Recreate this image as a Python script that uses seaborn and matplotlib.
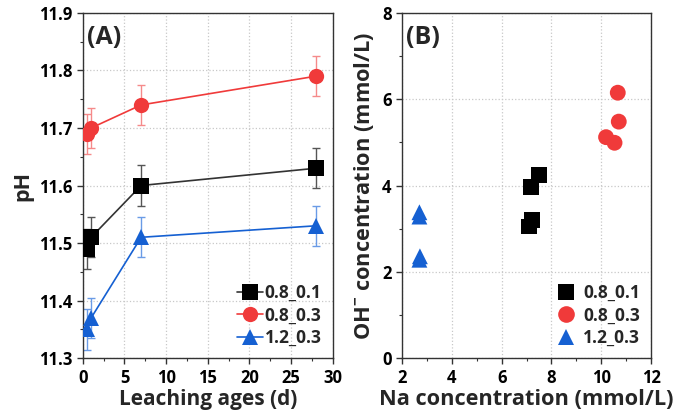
import numpy as np
import pandas as pd
import matplotlib
matplotlib.use("Agg")
import matplotlib.pyplot as plt
import seaborn as sns
from matplotlib.ticker import MultipleLocator
from matplotlib.lines import Line2D

# ---- data ----
series_names = ["0.8_0.1", "0.8_0.3", "1.2_0.3"]
ages = [0.5, 1, 7, 28]
ph_08_01 = [11.49, 11.51, 11.60, 11.63]
ph_08_03 = [11.69, 11.70, 11.74, 11.79]
ph_12_03 = [11.35, 11.37, 11.51, 11.53]
ph_err = [0.035, 0.035, 0.035, 0.035]

na_08_01 = [7.19, 7.50, 7.22, 7.11]
oh_08_01 = [3.97, 4.24, 3.20, 3.05]
na_08_03 = [10.66, 10.70, 10.19, 10.53]
oh_08_03 = [6.15, 5.48, 5.12, 4.99]
na_12_03 = [2.70, 2.70, 2.72, 2.70]
oh_12_03 = [3.38, 3.28, 2.36, 2.28]

colors = {"0.8_0.1": "#000000", "0.8_0.3": "#F03A3A", "1.2_0.3": "#1560D2"}
line_colors = {"0.8_0.1": "#333333", "0.8_0.3": "#F03A3A", "1.2_0.3": "#1560D2"}
err_colors = {"0.8_0.1": "#555555", "0.8_0.3": "#F58A8A", "1.2_0.3": "#6A9BE6"}
markers = {"0.8_0.1": "s", "0.8_0.3": "o", "1.2_0.3": "^"}

dfA = pd.DataFrame({
    "age": ages * 3,
    "pH": ph_08_01 + ph_08_03 + ph_12_03,
    "err": ph_err * 3,
    "series": [s for s in series_names for _ in ages],
})
dfB = pd.DataFrame({
    "Na": na_08_01 + na_08_03 + na_12_03,
    "OH": oh_08_01 + oh_08_03 + oh_12_03,
    "series": [s for s in series_names for _ in range(4)],
})

sns.set_theme(style="white")
plt.rcParams["font.family"] = ["Open Sans", "DejaVu Sans"]
plt.rcParams["font.weight"] = "bold"
plt.rcParams["axes.labelweight"] = "bold"
plt.rcParams["mathtext.fontset"] = "custom"
plt.rcParams["mathtext.bf"] = "Open Sans:bold"
plt.rcParams["mathtext.rm"] = "Open Sans:bold"

fig = plt.figure(figsize=(6.79, 4.15), dpi=100)
axA = fig.add_axes([0.122, 0.137, 0.368, 0.832])
axB = fig.add_axes([0.592, 0.137, 0.367, 0.832])

# ---- panel A ----
for s in series_names:
    d = dfA[dfA.series == s]
    axA.errorbar(d["age"], d["pH"], yerr=d["err"], fmt="none",
                 ecolor=err_colors[s], elinewidth=1.0, capsize=3, capthick=1.0, zorder=2)
sns.lineplot(data=dfA, x="age", y="pH", hue="series", style="series",
             palette=line_colors, markers=markers, dashes=False,
             markersize=11, linewidth=1.2, markeredgewidth=0, ax=axA, zorder=3,
             legend=False)
for line, s in zip(axA.lines[-3:], series_names):
    line.set_markerfacecolor(colors[s])
    line.set_markeredgecolor(colors[s])

axA.set_xlim(0, 30)
axA.set_ylim(11.3, 11.9)
axA.xaxis.set_major_locator(MultipleLocator(5))
axA.xaxis.set_minor_locator(MultipleLocator(2.5))
axA.yaxis.set_major_locator(MultipleLocator(0.1))
axA.yaxis.set_minor_locator(MultipleLocator(0.05))
axA.set_xlabel("Leaching ages (d)", fontsize=15, fontweight="bold", labelpad=2)
axA.set_ylabel("pH", fontsize=15.5, fontweight="bold", labelpad=4)
axA.text(0.018, 0.965, "(A)", transform=axA.transAxes, fontsize=18,
         fontweight="bold", va="top", ha="left")

handlesA = [Line2D([], [], color=line_colors[s], marker=markers[s], markersize=11,
                   markerfacecolor=colors[s], markeredgewidth=0, linewidth=1.2)
            for s in series_names]
axA.legend(handlesA, series_names, loc="lower right", frameon=False,
           handlelength=1.5, handletextpad=0.1, labelspacing=0.25,
           borderaxespad=0.25, prop={"weight": "bold", "size": 12.5})

# ---- panel B ----
sns.scatterplot(data=dfB, x="Na", y="OH", hue="series", style="series",
                palette=colors, markers=markers, s=130, linewidth=0,
                ax=axB, zorder=3, legend=False)
axB.set_xlim(2, 12)
axB.set_ylim(0, 8)
axB.xaxis.set_major_locator(MultipleLocator(2))
axB.xaxis.set_minor_locator(MultipleLocator(1))
axB.yaxis.set_major_locator(MultipleLocator(2))
axB.yaxis.set_minor_locator(MultipleLocator(1))
axB.set_xlabel("Na concentration (mmol/L)", fontsize=15.7, fontweight="bold", labelpad=2)
axB.set_ylabel(r"OH$^{\mathbf{-}}$ concentration (mmol/L)", fontsize=15.7,
               fontweight="bold", labelpad=4)
axB.text(0.018, 0.965, "(B)", transform=axB.transAxes, fontsize=18,
         fontweight="bold", va="top", ha="left")
handlesB = [Line2D([], [], color=colors[s], marker=markers[s], markersize=12,
                   markeredgewidth=0, linestyle="none") for s in series_names]
axB.legend(handlesB, series_names, loc="lower right", frameon=False,
           handlelength=1.2, handletextpad=0.4, labelspacing=0.25,
           borderaxespad=0.25, prop={"weight": "bold", "size": 12.5})

for ax in (axA, axB):
    ax.grid(True, which="major", color="#c8c8c8", linestyle=":", linewidth=0.9)
    ax.set_axisbelow(True)
    for sp in ax.spines.values():
        sp.set_visible(True)
        sp.set_color("#333333")
        sp.set_linewidth(1.0)
    ax.tick_params(which="both", direction="out", left=True, bottom=True,
                   top=False, right=False, colors="#333333", labelcolor="black")
    ax.tick_params(which="major", length=4, width=1.0, labelsize=12)
    ax.tick_params(which="minor", length=2.5, width=0.8)
    for lab in ax.get_xticklabels() + ax.get_yticklabels():
        lab.set_fontweight("bold")

fig.savefig("out.png", dpi=100, facecolor="white")
